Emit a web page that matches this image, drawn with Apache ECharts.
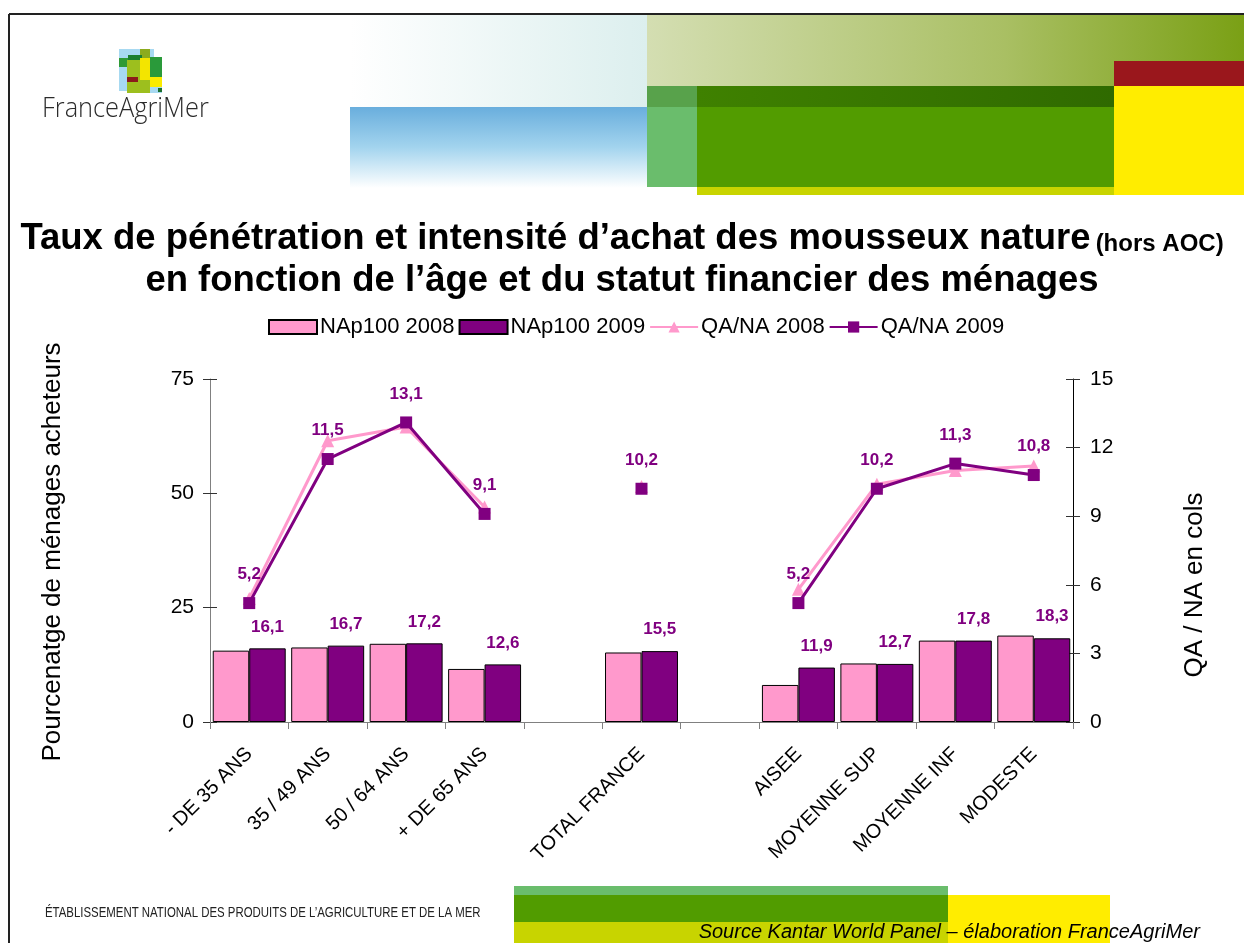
<!DOCTYPE html>
<html>
<head>
<meta charset="utf-8">
<script src="https://cdn.jsdelivr.net/npm/echarts@6/dist/echarts.min.js"></script>
<style>
  html, body { margin: 0; padding: 0; background: #ffffff; }
  #chart { width: 1244px; height: 943px; }
</style>
</head>
<body>
<div id="chart"></div>
<script>
// Categories along the x axis (blank slots separate the three groups)
const categories = ['- DE 35 ANS', '35 / 49 ANS', '50 / 64 ANS', '+ DE 65 ANS', '', 'TOTAL FRANCE', '', 'AISEE', 'MOYENNE SUP', 'MOYENNE INF', 'MODESTE'];

// Share of buying households (%), left axis
const penetration2008 = [15.6, 16.3, 17.1, 11.6, null, 15.2, null, 8.1, 12.8, 17.8, 18.9];
const penetration2009 = [16.1, 16.7, 17.2, 12.6, null, 15.5, null, 11.9, 12.7, 17.8, 18.3];

// Quantity bought per buyer (cols), right axis
const intensity2008 = [5.4, 12.3, 12.9, 9.4, null, 10.3, null, 5.8, 10.4, 11.0, 11.2];
const intensity2009 = [5.2, 11.5, 13.1, 9.1, null, 10.2, null, 5.2, 10.2, 11.3, 10.8];

// Axis tick values
const penetrationTicks = [0, 25, 50, 75];
const intensityTicks = [0, 3, 6, 9, 12, 15];

const seriesNames = ['NAp100 2008', 'NAp100 2009', 'QA/NA 2008', 'QA/NA 2009'];

const PINK = '#ff99cc';
const PURPLE = '#800080';
const FONT = "'Liberation Sans', Arial, sans-serif";

const fmt = v => v.toFixed(1).replace('.', ',');

const chart = echarts.init(document.getElementById('chart'), null, { renderer: 'canvas' });

// Slide decoration
const G = echarts.graphic;
const deco = [
  // frame
  { type: 'line', shape: { x1: 9, y1: 14, x2: 1244, y2: 14 }, style: { stroke: '#222', lineWidth: 2 } },
  { type: 'line', shape: { x1: 9, y1: 14, x2: 9, y2: 943 }, style: { stroke: '#222', lineWidth: 2 } },
  // header blocks
  { type: 'rect', shape: { x: 350, y: 15, width: 297, height: 92 },
    style: { fill: new G.LinearGradient(0, 0, 1, 0, [{ offset: 0, color: '#ffffff' }, { offset: 1, color: '#dcefee' }]) } },
  { type: 'rect', shape: { x: 350, y: 107, width: 297, height: 81 },
    style: { fill: new G.LinearGradient(0, 0, 0, 1, [{ offset: 0, color: '#69aedd' }, { offset: 0.5, color: '#a3d4ee' }, { offset: 1, color: '#ffffff' }]) } },
  { type: 'rect', shape: { x: 647, y: 15, width: 597, height: 71 },
    style: { fill: new G.LinearGradient(0, 0, 1, 0, [{ offset: 0, color: '#d4deb2' }, { offset: 0.6, color: '#a9bf63' }, { offset: 1, color: '#7aa015' }]) } },
  { type: 'rect', shape: { x: 1114, y: 61, width: 130, height: 25 }, style: { fill: '#9a171c' } },
  { type: 'rect', shape: { x: 1114, y: 86, width: 130, height: 109 }, style: { fill: '#ffed00' } },
  { type: 'rect', shape: { x: 697, y: 187, width: 417, height: 8 }, style: { fill: '#c8d400' } },
  { type: 'rect', shape: { x: 647, y: 86, width: 50, height: 101 }, style: { fill: '#6abd6c' } },
  { type: 'rect', shape: { x: 647, y: 86, width: 50, height: 21 }, style: { fill: '#58a24b' } },
  { type: 'rect', shape: { x: 697, y: 107, width: 417, height: 80 }, style: { fill: '#529c00' } },
  { type: 'rect', shape: { x: 697, y: 86, width: 417, height: 21 },
    style: { fill: new G.LinearGradient(0, 0, 1, 0, [{ offset: 0, color: '#3f8100' }, { offset: 1, color: '#2f6a00' }]) } },
  // logo mark
  { type: 'rect', shape: { x: 119, y: 49, width: 35, height: 42 }, style: { fill: '#a7d9f1' } },
  { type: 'rect', shape: { x: 150, y: 57, width: 12, height: 36 }, style: { fill: '#a7d9f1' } },
  { type: 'rect', shape: { x: 140, y: 49, width: 10, height: 9 }, style: { fill: '#8cab1e' } },
  { type: 'rect', shape: { x: 119, y: 58, width: 10, height: 9 }, style: { fill: '#2f9a35' } },
  { type: 'rect', shape: { x: 128, y: 55, width: 14, height: 8 }, style: { fill: '#1b7f2e' } },
  { type: 'rect', shape: { x: 127, y: 60, width: 23, height: 33 }, style: { fill: '#9dbf1e' } },
  { type: 'rect', shape: { x: 150, y: 57, width: 12, height: 25 }, style: { fill: '#2a9a3a' } },
  { type: 'rect', shape: { x: 140, y: 58, width: 10, height: 22 }, style: { fill: '#f3e500' } },
  { type: 'rect', shape: { x: 127, y: 77, width: 11, height: 5 }, style: { fill: '#8b1a1a' } },
  { type: 'rect', shape: { x: 150, y: 77, width: 12, height: 10 }, style: { fill: '#fbeb00' } },
  { type: 'rect', shape: { x: 158, y: 88, width: 4, height: 4 }, style: { fill: '#1b6f2e' } },
  { type: 'text', x: 42, y: 109, scaleX: 0.94,
    style: { text: 'FranceAgriMer', fontFamily: "'Open Sans', sans-serif", fontWeight: 300, fontSize: 27, fill: '#2b2b2b', align: 'left', verticalAlign: 'middle' } },
  // footer
  { type: 'rect', shape: { x: 514, y: 886, width: 434, height: 9 }, style: { fill: '#6abd6c' } },
  { type: 'rect', shape: { x: 514, y: 895, width: 434, height: 27 }, style: { fill: '#519c00' } },
  { type: 'rect', shape: { x: 514, y: 922, width: 434, height: 21 }, style: { fill: '#c8d400' } },
  { type: 'rect', shape: { x: 948, y: 895, width: 162, height: 48 }, style: { fill: '#ffed00' } },
  { type: 'text', x: 45, y: 913, scaleX: 0.815,
    style: { text: 'ÉTABLISSEMENT NATIONAL DES PRODUITS DE L\u2019AGRICULTURE ET DE LA MER', fontFamily: FONT, fontSize: 14, fill: '#222', align: 'left', verticalAlign: 'middle' } },
  { type: 'text', x: 1200, y: 932,
    style: { text: 'Source Kantar World Panel \u2013 élaboration FranceAgriMer', fontFamily: FONT, fontStyle: 'italic', fontSize: 20, fill: '#000', align: 'right', verticalAlign: 'middle' } },
  // axis titles
  { type: 'text', x: 53, y: 552, rotation: Math.PI / 2,
    style: { text: 'Pourcenatge de ménages acheteurs', fontFamily: FONT, fontSize: 26, fill: '#000', align: 'center', verticalAlign: 'middle' } },
  { type: 'text', x: 1195, y: 585, rotation: Math.PI / 2,
    style: { text: 'QA / NA en cols', fontFamily: FONT, fontSize: 26, fill: '#000', align: 'center', verticalAlign: 'middle' } }
].map(el => Object.assign({ z: -10, silent: true }, el));

const valueLabel = {
  show: true,
  position: 'top',
  color: PURPLE,
  fontFamily: FONT,
  fontWeight: 'bold',
  fontSize: 17,
  formatter: p => fmt(p.value)
};

// Value axis built from its tick list; the inner copy only draws the inward half of the cross ticks
function valueAxis(ticks, position, lineColor, inner) {
  return {
    type: 'value',
    position: position,
    min: ticks[0],
    max: ticks[ticks.length - 1],
    interval: ticks[1] - ticks[0],
    axisLine: { show: !inner, lineStyle: { color: lineColor } },
    axisTick: { show: true, inside: inner, length: 7, lineStyle: { color: '#333' } },
    axisLabel: inner ? { show: false } : { fontFamily: FONT, fontSize: 21, color: '#000', margin: position === 'left' ? 16 : 17 },
    splitLine: { show: false }
  };
}

const option = {
  animation: false,
  backgroundColor: '#ffffff',
  textStyle: { fontFamily: FONT },
  title: {
    left: 'center',
    top: 213,
    text: '{a|Taux de pénétration et intensité d\u2019achat des mousseux nature} {b|(hors AOC)}\n{a|en fonction de l\u2019âge et du statut financier des ménages}',
    textStyle: {
      rich: {
        a: { fontFamily: FONT, fontWeight: 'bold', fontSize: 36.5, color: '#000', lineHeight: 42 },
        b: { fontFamily: FONT, fontWeight: 'bold', fontSize: 24, color: '#000', lineHeight: 42, verticalAlign: 'bottom', padding: [0, 0, 4, 0] }
      }
    }
  },
  legend: {
    left: 263,
    top: 311,
    itemWidth: 48,
    itemHeight: 14,
    itemGap: 4,
    textStyle: { fontFamily: FONT, fontSize: 22, color: '#000', padding: [0, 0, 0, -2] },
    data: [
      { name: seriesNames[0], icon: 'rect' },
      { name: seriesNames[1], icon: 'rect' },
      { name: seriesNames[2] },
      { name: seriesNames[3] }
    ]
  },
  grid: { left: 210, right: 171, top: 379, bottom: 221 },
  xAxis: {
    type: 'category',
    data: categories,
    boundaryGap: true,
    axisLine: { show: true, lineStyle: { color: '#808080', width: 1 } },
    axisTick: { show: true, length: 7, interval: 0, lineStyle: { color: '#808080' } },
    axisLabel: { interval: 0, rotate: 45, fontFamily: FONT, fontSize: 20, color: '#000', margin: 29 },
    splitLine: { show: false }
  },
  yAxis: [
    valueAxis(penetrationTicks, 'left', '#808080', false),
    valueAxis(intensityTicks, 'right', '#000000', false),
    valueAxis(penetrationTicks, 'left', '#808080', true),
    valueAxis(intensityTicks, 'right', '#000000', true)
  ],
  series: [
    {
      name: seriesNames[0],
      type: 'bar',
      yAxisIndex: 0,
      data: penetration2008,
      barGap: '0%',
      barCategoryGap: '7%',
      itemStyle: { color: PINK, borderColor: '#000', borderWidth: 1 }
    },
    {
      name: seriesNames[1],
      type: 'bar',
      yAxisIndex: 0,
      data: penetration2009,
      barGap: '0%',
      barCategoryGap: '7%',
      itemStyle: { color: PURPLE, borderColor: '#000', borderWidth: 1 },
      label: Object.assign({}, valueLabel, { distance: 13 })
    },
    {
      name: seriesNames[2],
      type: 'line',
      yAxisIndex: 1,
      data: intensity2008,
      symbol: 'triangle',
      symbolSize: 13,
      showSymbol: true,
      showAllSymbol: true,
      connectNulls: false,
      lineStyle: { color: PINK, width: 3 },
      itemStyle: { color: PINK },
      z: 3
    },
    {
      name: seriesNames[3],
      type: 'line',
      yAxisIndex: 1,
      data: intensity2009,
      symbol: 'rect',
      symbolSize: 12,
      showSymbol: true,
      showAllSymbol: true,
      connectNulls: false,
      lineStyle: { color: PURPLE, width: 3 },
      itemStyle: { color: PURPLE },
      label: Object.assign({}, valueLabel, { distance: 14 }),
      z: 4
    }
  ],
  graphic: { elements: deco }
};

chart.setOption(option);
</script>
</body>
</html>
